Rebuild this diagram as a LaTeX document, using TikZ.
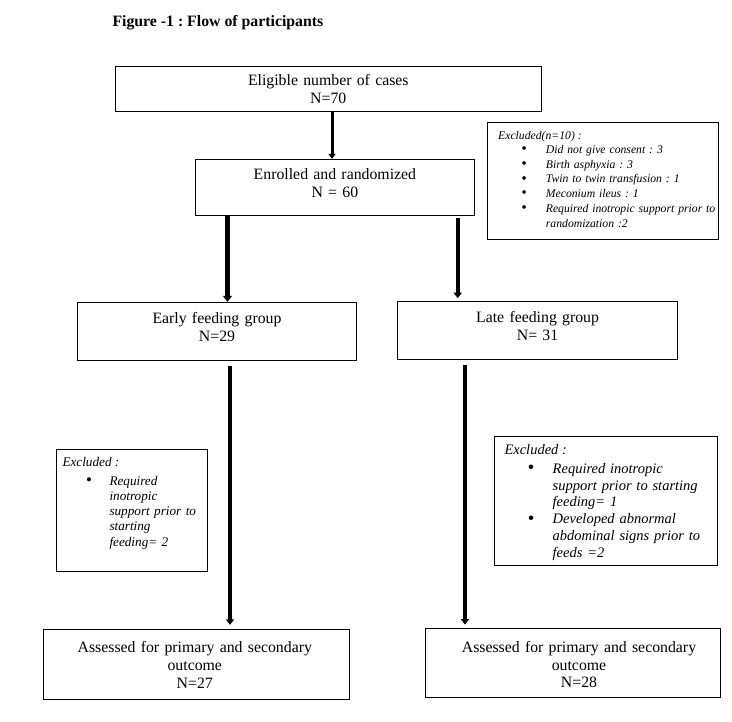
\documentclass[tikz,border=0pt]{standalone}
\usepackage{fontspec}
\usepackage{graphicx}
\setmainfont{Liberation Serif}
\usetikzlibrary{arrows.meta}
\frenchspacing
\newcommand{\mybul}[1]{\leavevmode\llap{\raisebox{-0.3pt}{\scalebox{1.3}{\textbullet}}\hspace{#1}}}
\begin{document}
\begin{tikzpicture}[x=1pt,y=-1pt,
  box/.style={draw=black, line width=0.9pt, rectangle, inner sep=0pt},
  maintext/.style={inner sep=0pt, anchor=base, align=center, text width=300pt, font=\fontsize{15.8}{18}\selectfont},
  headtext/.style={inner sep=0pt, anchor=base west},
  bultext/.style={inner sep=0pt, anchor=base west, align=left, text width=200pt},
  flowarrow/.style={draw=black, -{Triangle[width=8pt,length=5.5pt]}},
]
\fill[white] (0,0) rectangle (732,722);
\useasboundingbox (0,0) rectangle (732,722);

% title
\node[headtext, font=\fontsize{15.8}{18}\selectfont\bfseries] (title) at (112.3,26.3) {Figure -1 : Flow of participants};

% boxes
\node[box, minimum width=426.7pt, minimum height=45.7pt] (elig) at (328.35,88.85) {};
\node[box, minimum width=279pt, minimum height=56.4pt] (enr) at (335.2,187.5) {};
\node[box, minimum width=231.7pt, minimum height=116.5pt] (exc1) at (602.85,180.75) {};
\node[box, minimum width=279.4pt, minimum height=58pt] (early) at (217,331.3) {};
\node[box, minimum width=280pt, minimum height=58.3pt] (late) at (537.7,330.15) {};
\node[box, minimum width=150.8pt, minimum height=121.3pt] (exc2) at (131.9,510.35) {};
\node[box, minimum width=223.4pt, minimum height=128.3pt] (exc3) at (606,500.85) {};
\node[box, minimum width=305.7pt, minimum height=69.7pt] (ass1) at (196.15,664.15) {};
\node[box, minimum width=294.3pt, minimum height=69.4pt] (ass2) at (572.85,663) {};

% main texts
\node[maintext] (eligt) at (328.3,86) {Eligible number of cases\\N=70};
\node[maintext] (enrt) at (334.9,180) {Enrolled and randomized\\N = 60};
\node[maintext] (earlyt) at (217,323.3) {Early feeding group\\N=29};
\node[maintext] (latet) at (537.6,322.5) {Late feeding group\\N= 31};
\node[maintext, font=\fontsize{15.8}{17.8}\selectfont] (ass1t) at (194.8,652.7) {Assessed for primary and secondary\\outcome\\N=27};
\node[maintext, font=\fontsize{15.8}{17.8}\selectfont] (ass2t) at (579,652.3) {Assessed for primary and secondary\\outcome\\N=28};

% exclusion texts
\node[headtext, font=\fontsize{11.7}{14.8}\selectfont\itshape] (exc1h) at (498,139.3) {Excluded(n=10) :};
\node[bultext, text width=180pt, font=\fontsize{11.7}{14.8}\selectfont\itshape] (exc1b) at (545.7,153.3)
 {\mybul{19.3pt}Did not give consent : 3\\
  \mybul{19.3pt}Birth asphyxia : 3\\
  \mybul{19.3pt}Twin to twin transfusion : 1\\
  \mybul{19.3pt}Meconium ileus : 1\\
  \mybul{19.3pt}Required inotropic support prior to\\
  randomization :2};

\node[headtext, font=\fontsize{13.2}{15.2}\selectfont\itshape] (exc2h) at (62.3,467) {Excluded :};
\node[bultext, text width=120pt, font=\fontsize{13.2}{15.2}\selectfont\itshape] (exc2b) at (109.3,485.3)
 {\mybul{17.7pt}Required\\
  inotropic\\
  support prior to\\
  starting\\
  feeding= 2};

\node[headtext, font=\fontsize{14.5}{16.8}\selectfont\itshape] (exc3h) at (504.3,455) {Excluded :};
\node[bultext, text width=170pt, font=\fontsize{14.5}{16.8}\selectfont\itshape] (exc3b) at (552.5,473.3)
 {\mybul{18.5pt}Required inotropic\\
  support prior to starting\\
  feeding= 1\\
  \mybul{18.5pt}Developed abnormal\\
  abdominal signs prior to\\
  feeds =2};

% arrow columns
\coordinate (ax1) at (332,0);
\coordinate (ax2) at (227.5,0);
\coordinate (ax3) at (457.7,0);
\coordinate (ax4) at (230,0);
\coordinate (ax5) at (465,0);

\draw[flowarrow, line width=3pt, -{Triangle[width=7pt,length=5pt]}] (elig.south -| ax1) -- (enr.north -| ax1);
\draw[flowarrow, line width=5pt, -{Triangle[width=9pt,length=6pt]}] (enr.south -| ax2) -- (early.north -| ax2);
\draw[flowarrow, line width=4pt, shorten <=2.3pt, shorten >=2.3pt] (enr.south -| ax3) -- (late.north -| ax3);
\draw[flowarrow, line width=4pt, shorten <=5pt, shorten >=4pt] (early.south -| ax4) -- (ass1.north -| ax4);
\draw[flowarrow, line width=4.5pt, shorten <=5.7pt, shorten >=3.3pt] (late.south -| ax5) -- (ass2.north -| ax5);
\end{tikzpicture}
\end{document}
